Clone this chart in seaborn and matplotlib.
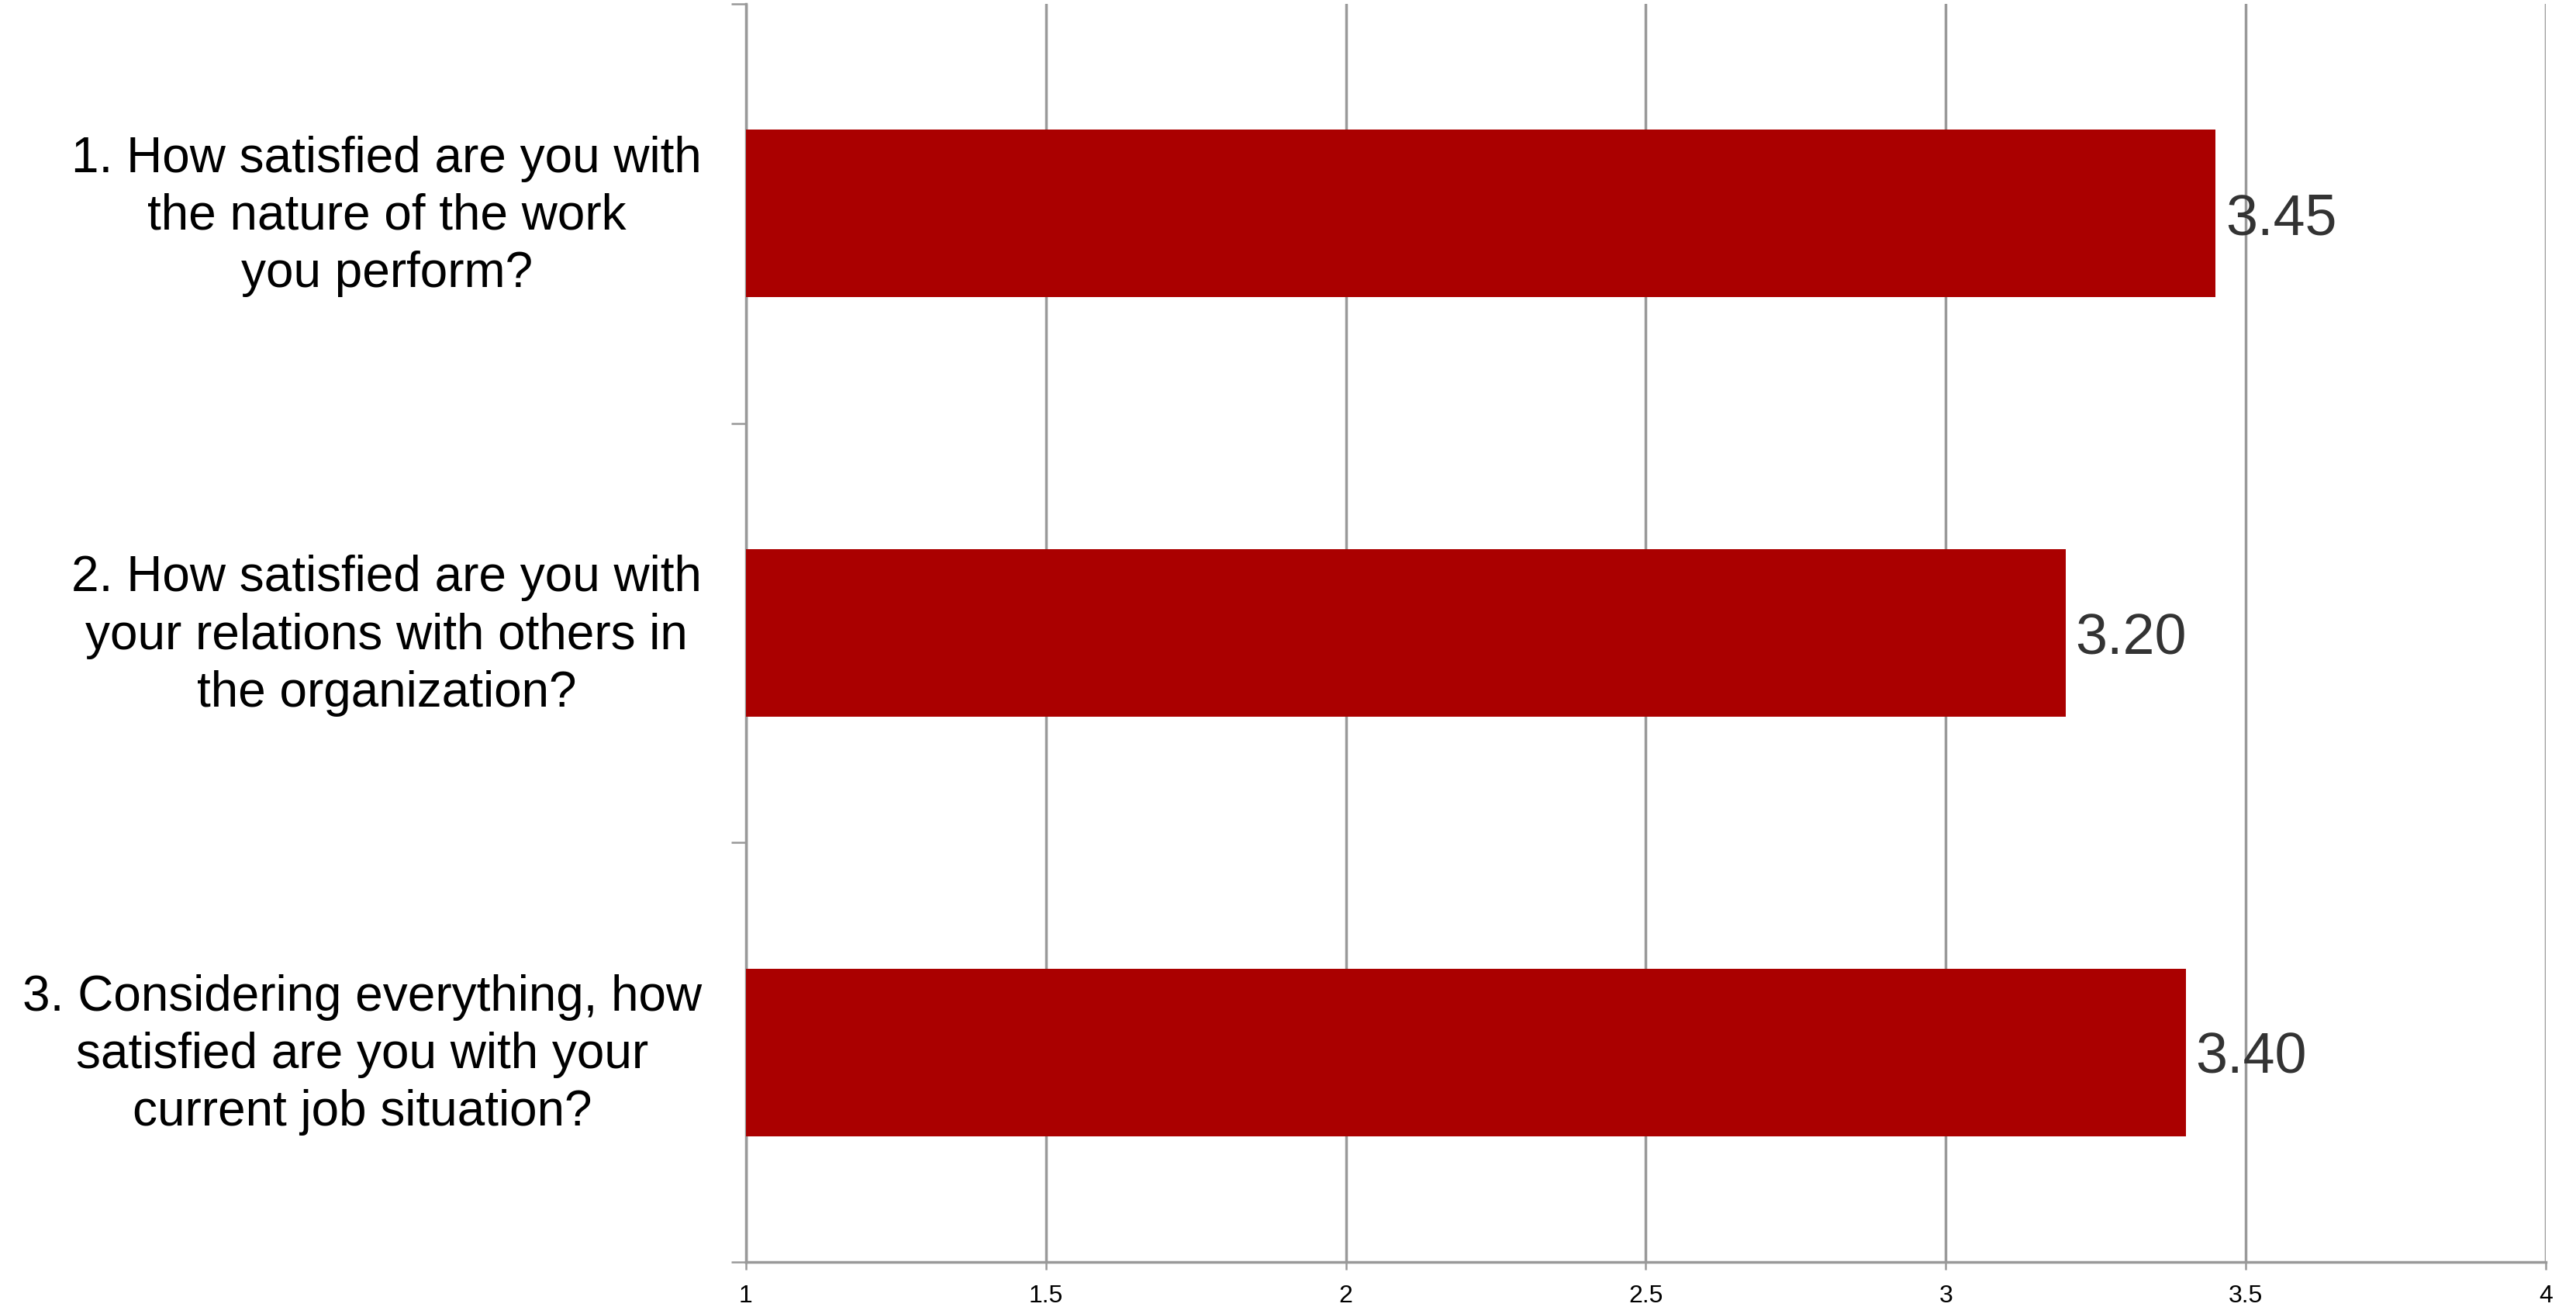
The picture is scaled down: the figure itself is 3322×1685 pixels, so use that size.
import matplotlib
matplotlib.use("Agg")
import matplotlib.pyplot as plt
import matplotlib.transforms as mtransforms
import seaborn as sns
import pandas as pd

# Survey questions (category axis) and their mean scores
questions = [
    "1. How satisfied are you with\nthe nature of the work\nyou perform?",
    "2. How satisfied are you with\nyour relations with others in\nthe organization?",
    "3. Considering everything, how\nsatisfied are you with your\ncurrent job situation?",
]
scores = [3.45, 3.20, 3.40]
x_ticks = [1, 1.5, 2, 2.5, 3, 3.5, 4]
x_tick_labels = ["1", "1.5", "2", "2.5", "3", "3.5", "4"]

sns.set_theme(style="white")
plt.rcParams["font.family"] = ["Liberation Sans", "DejaVu Sans"]

BAR_COLOR = "#AA0000"
GRID_COLOR = "#999999"

df = pd.DataFrame({"question": questions, "score": scores})

W, H = 3323, 1685
fig = plt.figure(figsize=(W / 100, H / 100), dpi=100)
ax = fig.add_axes([962 / W, 1 - 1627 / H, (3283 - 962) / W, (1627 - 5) / H])

sns.barplot(data=df, x="score", y="question", orient="h", color=BAR_COLOR,
            saturation=1, width=0.4, linewidth=0, ax=ax, zorder=3)

ax.set_xlim(1, 4)
ax.set_ylim(2.5, -0.5)
ax.set_xlabel("")
ax.set_ylabel("")

# vertical gridlines behind the bars
ax.set_axisbelow(True)
ax.xaxis.grid(True, color=GRID_COLOR, linewidth=2.5)
ax.yaxis.grid(False)

for side in ["top", "right"]:
    ax.spines[side].set_visible(False)
for side in ["left", "bottom"]:
    ax.spines[side].set_color(GRID_COLOR)
    ax.spines[side].set_linewidth(2.5)

# x axis
ax.set_xticks(x_ticks)
ax.set_xticklabels(x_tick_labels)
ax.tick_params(axis="x", which="major", direction="out", length=7.2, width=1.8,
               color=GRID_COLOR, labelsize=23, labelcolor="black", pad=14,
               bottom=True)

# y axis: tick marks on category boundaries, labels at category centres
ax.set_yticks([-0.5, 0.5, 1.5, 2.5])
ax.set_yticklabels([])
ax.set_yticks([0, 1, 2], minor=True)
ax.set_yticklabels(questions, minor=True)
ax.tick_params(axis="y", which="major", direction="out", length=13.7, width=1.8,
               color=GRID_COLOR, left=True)
ax.tick_params(axis="y", which="minor", length=0, labelsize=46,
               labelcolor="black", pad=41, left=True)
nudge_up = mtransforms.ScaledTranslation(0, 0.10, fig.dpi_scale_trans)
for t in ax.get_yticklabels(minor=True):
    t.set_multialignment("center")
    t.set_linespacing(1.3)
    t.set_transform(t.get_transform() + nudge_up)

# value labels at the bar ends
value_texts = ax.bar_label(ax.containers[0], labels=[f"{v:.2f}" for v in scores],
                           padding=9, fontsize=53, color="#333333")
for t in value_texts:
    t.set_verticalalignment("center_baseline")

fig.savefig("out.png", dpi=100, facecolor="white")
